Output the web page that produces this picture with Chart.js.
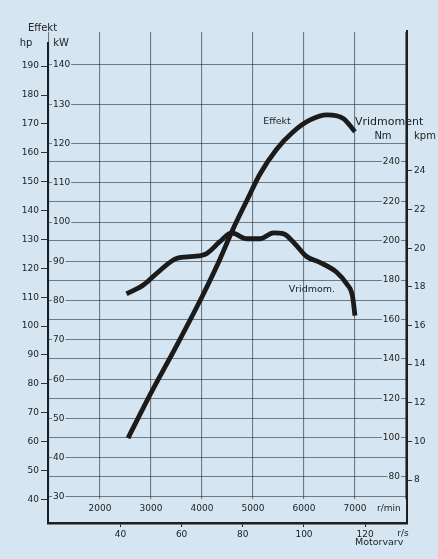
<!DOCTYPE html>
<html>
<head>
<meta charset="utf-8">
<script src="https://cdn.jsdelivr.net/npm/chart.js@4.4.0/dist/chart.umd.min.js"></script>
<style>
  html, body { margin: 0; padding: 0; background: #d5e5f1; }
  canvas { display: block; }
</style>
</head>
<body>
<canvas id="motorChart" width="438" height="559"></canvas>
<script>
// Effekt (kW) och vridmoment (Nm) mot motorvarv
const effektRpm = [2550, 3000, 3500, 4000, 4350, 4600, 4880, 5140, 5460, 5790, 6120, 6450, 6770, 7000];
const effektKw  = [45, 56.5, 68.5, 81, 90.5, 98, 105.5, 112.3, 118.5, 123, 126, 127.3, 126.4, 123];

const vridRpm = [2520, 2850, 3180, 3500, 3830, 4090, 4350, 4580, 4880, 5140, 5400, 5600, 5820, 6050, 6310, 6640, 6840, 6950, 7000];
const vridNm  = [173, 177.5, 185, 191, 192, 193.5, 199.5, 204, 201, 201, 204, 203.5, 198.5, 192, 189, 184, 178, 172, 162];

// skalstreck
const rpmTicks = [1000, 2000, 3000, 4000, 5000, 6000, 7000, 8000];
const rpsTicks = [40, 60, 80, 100, 120];
const hpTicks  = [40, 50, 60, 70, 80, 90, 100, 110, 120, 130, 140, 150, 160, 170, 180, 190];
const kwTicks  = [30, 40, 50, 60, 70, 80, 90, 100, 110, 120, 130, 140];
const nmTicks  = [80, 100, 120, 140, 160, 180, 200, 220, 240];
const kpmTicks = [8, 10, 12, 14, 16, 18, 20, 22, 24];

const HP_PER_KW = 1.36;
const NM_PER_KPM = 9.81;
const RPM_PER_RPS = 60;

const bg = "#d5e5f1";
const gridColor = "rgba(40, 50, 60, 0.6)";
const ink = "#222";
const fontFam = "'DejaVu Sans', 'Liberation Sans', sans-serif";

Chart.defaults.font.family = fontFam;
Chart.defaults.font.size = 9;
Chart.defaults.color = ink;

const kwMin = 40 / HP_PER_KW, kwMax = 148.4;
const nmMin = 68.7, nmMax = 306;
const rpmMin = 980, rpmMax = 8020;

const setTicks = (list) => (s) => { s.ticks = list.map(v => ({ value: v })); };

const backdrop = { showLabelBackdrop: true, backdropColor: bg, backdropPadding: 1 };

// ram och texter
const frameAndText = {
  id: "frameAndText",
  afterDraw(chart) {
    const { ctx, chartArea: a, scales: s } = chart;
    ctx.save();
    ctx.strokeStyle = "#1e1e1e";
    ctx.lineWidth = 2;
    ctx.beginPath();
    ctx.moveTo(a.left, a.top + 10);
    ctx.lineTo(a.left, s.x.bottom);
    ctx.moveTo(a.right, a.top - 2);
    ctx.lineTo(a.right, s.x.bottom);
    ctx.stroke();

    ctx.fillStyle = ink;
    ctx.textBaseline = "middle";
    ctx.font = "10px " + fontFam;
    ctx.textAlign = "left";
    ctx.fillText("Effekt", a.left - 20, a.top - 4);
    ctx.textAlign = "center";
    ctx.fillText("hp", a.left - 22, a.top + 11);
    ctx.fillText("kW", a.left + 13, a.top + 11);

    // höger rubrik
    ctx.textAlign = "left";
    ctx.font = "11px " + fontFam;
    ctx.fillText("Vridmoment", a.right - 52, s.nm.getPixelForValue(260));
    ctx.font = "10px " + fontFam;
    ctx.textAlign = "center";
    ctx.fillText("Nm", a.right - 24, s.nm.getPixelForValue(253));
    ctx.fillText("kpm", a.right + 18, s.nm.getPixelForValue(253));

    // kurvetiketter
    ctx.textAlign = "left";
    ctx.font = "9.5px " + fontFam;
    ctx.fillText("Effekt", s.x.getPixelForValue(5200), s.kw.getPixelForValue(125.5));
    ctx.fillText("Vridmom.", s.x.getPixelForValue(5700), s.nm.getPixelForValue(175));

    // enheter nere
    ctx.font = "9px " + fontFam;
    ctx.fillText("r/min", s.x.getPixelForValue(7000) + 22, s.x.top + 9);
    ctx.fillText("r/s", s.rps.getPixelForValue(120) + 32, s.rps.top + 11);
    ctx.textAlign = "center";
    ctx.font = "9.5px " + fontFam;
    ctx.fillText("Motorvarv", s.rps.getPixelForValue(120) + 14, s.rps.top + 20);
    ctx.restore();
  }
};

const ctx = document.getElementById("motorChart").getContext("2d");

new Chart(ctx, {
  type: "line",
  data: {
    datasets: [
      {
        label: "Effekt",
        data: effektRpm.map((r, i) => ({ x: r, y: effektKw[i] })),
        xAxisID: "x",
        yAxisID: "kw",
        borderColor: "#1b1b1b",
        borderWidth: 4.8,
        pointRadius: 0,
        cubicInterpolationMode: "monotone",
        fill: false,
      },
      {
        label: "Vridmoment",
        data: vridRpm.map((r, i) => ({ x: r, y: vridNm[i] })),
        xAxisID: "x",
        yAxisID: "nm",
        borderColor: "#1b1b1b",
        borderWidth: 4.8,
        pointRadius: 0,
        cubicInterpolationMode: "monotone",
        fill: false,
      },
    ],
  },
  options: {
    responsive: false,
    devicePixelRatio: 1,
    animation: false,
    events: [],
    layout: { padding: { top: 32, left: 0, right: 0, bottom: 0 } },
    plugins: { legend: { display: false }, tooltip: { enabled: false } },
    scales: {
      x: {
        type: "linear", position: "bottom", weight: 0,
        min: rpmMin, max: rpmMax,
        afterBuildTicks: setTicks(rpmTicks),
        afterFit: (s) => { s.height = 23.7; },
        grid: { drawTicks: false, color: gridColor, lineWidth: 1.1 },
        border: { display: false },
        ticks: {
          autoSkip: false, maxRotation: 0, padding: 4,
          callback: (v) => (v >= 2000 && v <= 7000 ? String(v) : ""),
        },
      },
      rps: {
        type: "linear", position: "bottom", weight: 1,
        min: rpmMin / RPM_PER_RPS, max: rpmMax / RPM_PER_RPS,
        afterBuildTicks: setTicks(rpsTicks),
        afterFit: (s) => { s.height = 36; },
        grid: { drawOnChartArea: false, drawTicks: true, tickLength: 4, color: ink },
        border: { display: true, width: 2.5, color: "#1e1e1e" },
        ticks: { autoSkip: false, maxRotation: 0, padding: 2 },
      },
      hp: {
        type: "linear", position: "left", weight: 1,
        min: kwMin * HP_PER_KW, max: kwMax * HP_PER_KW,
        afterBuildTicks: setTicks(hpTicks),
        afterFit: (s) => { s.width = 48; },
        grid: { drawOnChartArea: false, drawTicks: true, tickLength: 7, color: "#333" },
        border: { display: false },
        ticks: { padding: 2 },
      },
      kw: {
        type: "linear", position: "left", weight: 0,
        min: kwMin, max: kwMax,
        afterBuildTicks: setTicks(kwTicks),
        afterFit: (s) => { s.width = 0; },
        grid: { drawTicks: false, color: gridColor, lineWidth: 1.1 },
        border: { display: false },
        ticks: { mirror: true, padding: 5, ...backdrop },
      },
      nm: {
        type: "linear", position: "right", weight: 0,
        min: nmMin, max: nmMax,
        afterBuildTicks: setTicks(nmTicks),
        afterFit: (s) => { s.width = 0; },
        grid: { drawTicks: false, color: gridColor, lineWidth: 1.1 },
        border: { display: false },
        ticks: { mirror: true, padding: -7, ...backdrop },
      },
      kpm: {
        type: "linear", position: "right", weight: 1,
        min: nmMin / NM_PER_KPM, max: nmMax / NM_PER_KPM,
        afterBuildTicks: setTicks(kpmTicks),
        afterFit: (s) => { s.width = 31; },
        grid: { drawOnChartArea: false, drawTicks: true, tickLength: 5, color: "#333" },
        border: { display: false },
        ticks: { padding: 2 },
      },
    },
  },
  plugins: [frameAndText],
});
</script>
</body>
</html>
